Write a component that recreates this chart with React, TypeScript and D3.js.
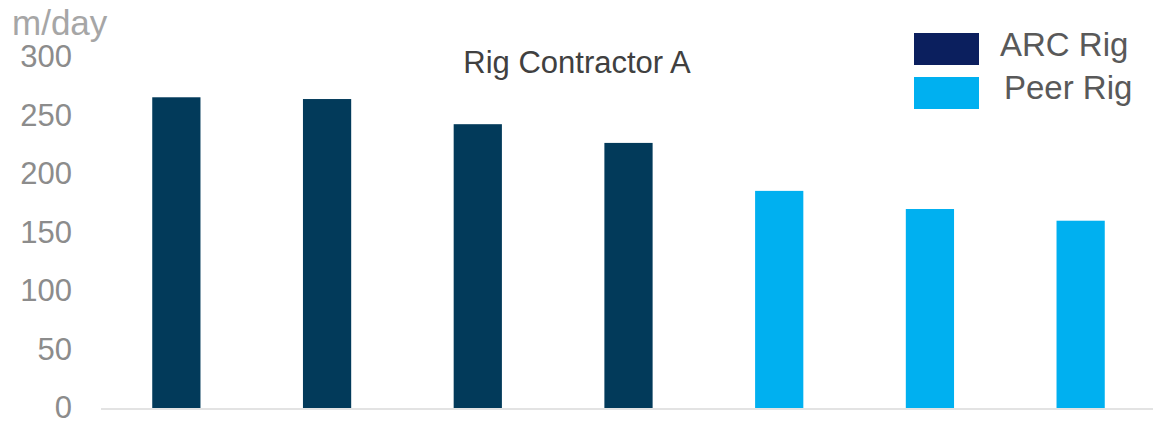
import React from "react";
import * as d3 from "d3";

const categories = ["ARC 1", "ARC 2", "ARC 3", "ARC 4", "Peer 1", "Peer 2", "Peer 3"];
const values = [266, 264.5, 243, 227, 186, 170.5, 160.5];
const groups = ["ARC", "ARC", "ARC", "ARC", "Peer", "Peer", "Peer"];
const yTicks = [0, 50, 100, 150, 200, 250, 300];
const legendLabels = ["ARC Rig", "Peer Rig"];
const title = "Rig Contractor A";
const unitLabel = "m/day";

const W = 1153;
const H = 421;
const FONT = "'Liberation Sans', Arial, sans-serif";

export default function App() {
  const x = d3
    .scaleBand<string>()
    .domain(categories)
    .range([101, 1156])
    .paddingInner(0.68)
    .paddingOuter(0.34);
  const y = d3.scaleLinear().domain([0, 300]).range([408.5, 57.5]);
  const barColor = d3
    .scaleOrdinal<string, string>()
    .domain(["ARC", "Peer"])
    .range(["#023A5A", "#00B0F0"]);
  const legendColor = d3
    .scaleOrdinal<string, string>()
    .domain(legendLabels)
    .range(["#0B1F5E", "#00B0F0"]);
  const legendTextX = [1000, 1004];
  const legendTextY = [56, 99];

  return (
    <svg
      width={W}
      height={H}
      style={{ position: "absolute", left: 0, top: 0, background: "#fff" }}
      fontFamily={FONT}
    >
      <text x={12} y={35} fontSize={35} fill="#a6a6a6">
        {unitLabel}
      </text>
      {yTicks.map((t) => (
        <text
          key={t}
          x={72}
          y={y(t) + 9.5}
          fontSize={31}
          fill="#8c8c8c"
          textAnchor="end"
        >
          {t}
        </text>
      ))}
      <text x={577} y={73} fontSize={31} fill="#404040" textAnchor="middle">
        {title}
      </text>
      {categories.map((c, i) => (
        <rect
          key={c}
          x={x(c)}
          y={y(values[i])}
          width={x.bandwidth()}
          height={y(0) - y(values[i])}
          fill={barColor(groups[i])}
        />
      ))}
      <line x1={101} x2={1153} y1={409} y2={409} stroke="#e3e3e3" strokeWidth={2} />
      {legendLabels.map((l, i) => (
        <g key={l}>
          <rect
            x={914}
            y={33 + i * 44}
            width={65}
            height={32}
            fill={legendColor(l)}
          />
          <text
            x={legendTextX[i]}
            y={legendTextY[i]}
            fontSize={33}
            fill="#595959"
          >
            {l}
          </text>
        </g>
      ))}
    </svg>
  );
}
